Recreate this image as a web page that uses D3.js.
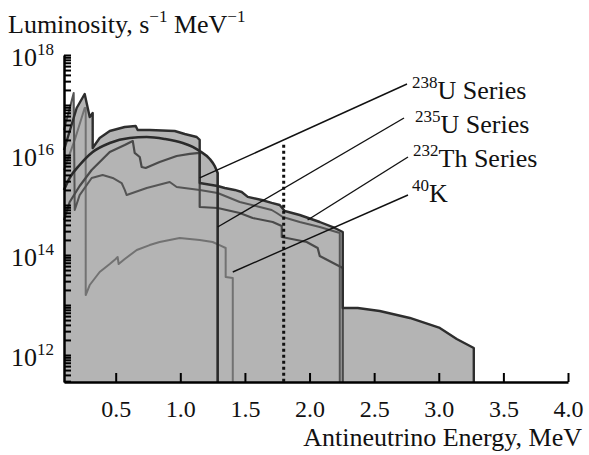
<!DOCTYPE html>
<html>
<head>
<meta charset="utf-8">
<script src="https://cdn.jsdelivr.net/npm/d3@7"></script>
<style>
  body { margin: 0; background: #fff; }
  text { font-family: "Liberation Serif", "Times New Roman", serif; fill: #111; }
</style>
</head>
<body>
<div id="chart"></div>
<script>
// energy ticks (MeV) and y label powers
var energyTicks = [0.5, 1.0, 1.5, 2.0, 2.5, 3.0, 3.5, 4.0];
var yLabelPowers = [12, 14, 16, 18];

// curves: [energy MeV, luminosity s^-1 MeV^-1]
var topCurve = [
  [0.10, 1.26e16], [0.198, 8.71e16], [0.26, 1.66e17], [0.299, 5.75e16], [0.322, 6.92e16],
  [0.322, 1.38e16], [0.376, 2.19e16], [0.454, 3.02e16], [0.57, 3.63e16], [0.655, 3.8e16],
  [0.67, 3.16e16], [0.763, 3.16e16], [0.957, 3.02e16], [1.034, 2.63e16], [1.127, 2.29e16],
  [1.15, 2.0e16], [1.15, 2.75e15], [1.289, 2.4e15], [1.344, 2.19e15], [1.421, 2.0e15],
  [1.475, 1.82e15], [1.522, 1.45e15], [1.63, 1.26e15], [1.707, 1.1e15], [1.769, 1.0e15],
  [1.808, 7.59e14], [1.924, 6.31e14], [2.079, 4.57e14], [2.195, 3.47e14], [2.257, 2.88e14],
  [2.257, 8.71e12], [2.373, 8.71e12], [2.543, 7.59e12], [2.776, 5.5e12], [3.008, 3.47e12],
  [3.139, 2.09e12], [3.271, 1.38e12]
];
var arcCurve = [
  [0.10, 2.0e15], [0.144, 3.47e15], [0.221, 6.31e15], [0.322, 1.15e16], [0.454, 1.74e16],
  [0.608, 2.19e16], [0.74, 2.29e16], [0.879, 2.09e16], [1.019, 1.74e16], [1.096, 1.45e16],
  [1.15, 1.2e16], [1.228, 8.32e15], [1.266, 6.03e15], [1.289, 4.37e15]
];
var sawCurve = [
  [0.10, 5.01e14], [0.144, 1.15e15], [0.221, 2.4e15], [0.314, 5.01e15], [0.454, 1.15e16],
  [0.57, 1.58e16], [0.632, 1.91e16], [0.647, 1.1e16], [0.686, 9.12e15], [0.701, 5.75e15],
  [0.732, 5.5e15], [0.84, 7.24e15], [0.972, 9.55e15], [1.073, 1.05e16], [1.15, 1.1e16],
  [1.15, 9.12e14], [1.289, 8.71e14], [1.46, 6.92e14], [1.56, 5.5e14], [1.715, 4.57e14],
  [1.785, 3.8e14], [1.785, 2.29e14], [1.978, 1.82e14], [2.063, 1.38e14], [2.079, 9.55e13],
  [2.257, 5.5e13]
];
var thCurve = [
  [0.10, 3.16e16], [0.175, 1.74e17], [0.183, 7.94e14], [0.221, 1.58e15], [0.314, 3.47e15],
  [0.399, 3.98e15], [0.477, 3.47e15], [0.546, 2.75e15], [0.57, 2.0e15], [0.585, 1.58e15],
  [0.74, 2.19e15], [0.918, 2.88e15], [0.972, 2.29e15], [1.15, 2.0e15], [1.289, 1.74e15],
  [1.46, 1.15e15], [1.615, 9.12e14], [1.707, 7.94e14], [1.746, 6.92e14], [1.793, 5.75e14],
  [1.924, 4.57e14], [2.079, 3.63e14], [2.234, 2.75e14]
];
var lightCurve = [
  [0.10, 5.01e15], [0.183, 2.0e16], [0.26, 8.71e16], [0.268, 8.71e16], [0.268, 1.58e13],
  [0.299, 2.51e13], [0.376, 4.57e13], [0.454, 6.61e13], [0.5, 8.32e13], [0.515, 9.12e13],
  [0.523, 6.61e13], [0.57, 8.32e13], [0.663, 1.26e14], [0.763, 1.58e14], [0.84, 1.82e14],
  [0.995, 2.19e14], [1.15, 2.0e14], [1.25, 1.82e14], [1.32, 1.51e14], [1.351, 1.38e14],
  [1.351, 3.63e13], [1.406, 3.47e13]
];

// threshold line
var thresholdE = 1.8;
var thresholdTop = 1.6e16;

// labels
var labelIso = ['238', '235', '232', '40'];
var labelName = ['U Series', 'U Series', 'Th Series', 'K'];
var labelAnchorE = [1.15, 1.289, 1.985, 1.406];
var labelAnchorL = [3.47e15, 3.63e14, 5.01e14, 4.57e13];

var width = 589, height = 455;

var svg = d3.select('#chart')
  .append('svg')
  .attr('width', width)
  .attr('height', height);

var x = d3.scaleLinear().domain([0.1, 4.0]).range([64, 568]);
var y = d3.scaleLog().domain([Math.pow(10, 11.46), 1e18]).range([382, 55]);
var base = y.domain()[0];

// close each curve down to the axis at its end point
function closed(c) {
  var last = c[c.length - 1];
  return c.concat([[last[0], base]]);
}

var area = d3.area()
  .x(function(d) { return x(d[0]); })
  .y0(y(base))
  .y1(function(d) { return y(d[1]); });

var line = d3.line()
  .x(function(d) { return x(d[0]); })
  .y(function(d) { return y(d[1]); });

var curves = [
  {data: lightCurve, color: '#727272', w: 2},
  {data: thCurve, color: '#555', w: 2},
  {data: sawCurve, color: '#4a4a4a', w: 2.2},
  {data: topCurve, color: '#2e2e2e', w: 2.4},
  {data: arcCurve, color: '#2a2a2a', w: 2.6, smooth: true}
];

// gray fills
curves.forEach(function(c) {
  svg.append('path')
    .attr('d', area.curve(c.smooth ? d3.curveMonotoneX : d3.curveLinear)(c.data))
    .attr('fill', '#b4b4b4');
});

// outlines
curves.forEach(function(c) {
  var pts = closed(c.data);
  var p;
  if (c.smooth) {
    p = line.curve(d3.curveMonotoneX)(c.data) + 'L' + x(pts[pts.length - 1][0]) + ',' + y(base);
  } else {
    p = line.curve(d3.curveLinear)(pts);
  }
  svg.append('path')
    .attr('d', p)
    .attr('fill', 'none')
    .attr('stroke', c.color)
    .attr('stroke-width', c.w)
    .attr('stroke-linejoin', 'round');
});

// dotted threshold
svg.append('line')
  .attr('x1', x(thresholdE)).attr('x2', x(thresholdE))
  .attr('y1', y(thresholdTop)).attr('y2', y(base))
  .attr('stroke', '#111')
  .attr('stroke-width', 3)
  .attr('stroke-dasharray', '3,3');

// leader lines + labels
var labelX = [412, 415, 413, 412];
var labelY = [99, 133, 167, 202];
var leaderStart = [[407, 84], [404, 118], [408, 157], [408, 195]];

labelIso.forEach(function(iso, i) {
  svg.append('line')
    .attr('x1', leaderStart[i][0]).attr('y1', leaderStart[i][1])
    .attr('x2', x(labelAnchorE[i])).attr('y2', y(labelAnchorL[i]))
    .attr('stroke', '#111')
    .attr('stroke-width', 1.4);
  var t = svg.append('text')
    .attr('x', labelX[i])
    .attr('y', labelY[i])
    .attr('font-size', 26);
  t.append('tspan').attr('font-size', 17).attr('dy', -11).text(iso);
  t.append('tspan').attr('dy', 11).text(labelName[i]);
});

// y axis with log ticks
var yTicks = [];
for (var n = 11; n < 18; n++) {
  for (var k = 1; k < 10; k++) {
    var v = k * Math.pow(10, n);
    if (v >= base) yTicks.push(v);
  }
}
yTicks.push(1e18);

var yAxis = svg.append('g')
  .attr('transform', 'translate(64,0)')
  .call(d3.axisLeft(y).tickValues(yTicks).tickSizeInner(-7).tickSizeOuter(0).tickFormat(''));
yAxis.select('.domain').attr('stroke', '#000').attr('stroke-width', 2.5);
yAxis.selectAll('.tick line').attr('stroke', '#000').attr('stroke-width', 2);

yLabelPowers.forEach(function(p) {
  var t = svg.append('text')
    .attr('x', 54)
    .attr('y', y(Math.pow(10, p)) + 11)
    .attr('text-anchor', 'end')
    .attr('font-size', 26);
  t.append('tspan').text('10');
  t.append('tspan').attr('font-size', 17).attr('dy', -11).text(p);
});

// x axis
var xAxis = svg.append('g')
  .attr('transform', 'translate(0,382)')
  .call(d3.axisBottom(x).tickValues(energyTicks).tickSizeInner(-9).tickSizeOuter(0)
    .tickPadding(18).tickFormat(d3.format('.1f')));
xAxis.select('.domain').attr('stroke', '#000').attr('stroke-width', 2.5);
xAxis.selectAll('.tick line').attr('stroke', '#000').attr('stroke-width', 2);
xAxis.selectAll('text')
  .attr('font-size', 24)
  .attr('font-family', '"Liberation Serif", serif')
  .attr('fill', '#111');

svg.append('text')
  .attr('x', 582)
  .attr('y', 446)
  .attr('text-anchor', 'end')
  .attr('font-size', 26)
  .text('Antineutrino Energy, MeV');

// y title
var title = svg.append('text')
  .attr('x', 8)
  .attr('y', 33)
  .attr('font-size', 26);
title.append('tspan').text('Luminosity, s');
title.append('tspan').attr('font-size', 17).attr('dy', -11).text('\u22121');
title.append('tspan').attr('dy', 11).text(' MeV');
title.append('tspan').attr('font-size', 17).attr('dy', -11).text('\u22121');
</script>
</body>
</html>
